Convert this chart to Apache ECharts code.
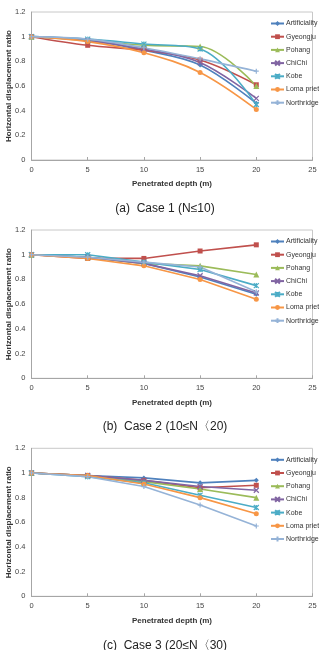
<!DOCTYPE html>
<html>
<head>
<meta charset="utf-8">
<script src="https://cdn.jsdelivr.net/npm/echarts@6/dist/echarts.min.js"></script>
<style>
  html, body { margin: 0; padding: 0; background: #fff; }
  #main { width: 319px; height: 650px; }
</style>
</head>
<body>
<div id="main"></div>
<script>
// depth (m) on x
var depths = [0, 5, 10, 15, 20];
var names = ['Artificiality', 'Gyeongju', 'Pohang', 'ChiChi', 'Kobe', 'Loma prieta', 'Northridge'];
var colors = ['#4F81BD', '#C0504D', '#9BBB59', '#8064A2', '#4BACC6', '#F79646', '#95B3D7'];
var captions = ['(a)  Case 1 (N\u226410)', '(b)  Case 2 (10\u2264N\u300820)', '(c)  Case 3 (20\u2264N\u300830)'];
var yTicks = [0, 0.2, 0.4, 0.6, 0.8, 1, 1.2];

// case 1 (N<=10)
var case1 = [
  [1, 0.97, 0.89, 0.77, 0.46],
  [1, 0.93, 0.89, 0.81, 0.61],
  [1, 0.97, 0.93, 0.92, 0.60],
  [1, 0.97, 0.90, 0.79, 0.50],
  [1, 0.98, 0.94, 0.90, 0.45],
  [1, 0.96, 0.87, 0.71, 0.41],
  [1, 0.98, 0.91, 0.82, 0.72]
];
// case 2 (10<=N<20)
var case2 = [
  [1, 0.98, 0.93, 0.82, 0.68],
  [1, 0.97, 0.97, 1.03, 1.08],
  [1, 0.98, 0.93, 0.91, 0.84],
  [1, 0.98, 0.93, 0.83, 0.69],
  [1, 1.00, 0.94, 0.88, 0.75],
  [1, 0.97, 0.91, 0.80, 0.64],
  [1, 0.98, 0.94, 0.90, 0.70]
];
// case 3 (20<=N<30)
var case3 = [
  [1, 0.98, 0.96, 0.92, 0.94],
  [1, 0.98, 0.94, 0.88, 0.90],
  [1, 0.98, 0.93, 0.87, 0.80],
  [1, 0.98, 0.94, 0.89, 0.86],
  [1, 0.97, 0.92, 0.82, 0.72],
  [1, 0.98, 0.91, 0.80, 0.67],
  [1, 0.97, 0.89, 0.74, 0.57]
];
var cases = [case1, case2, case3];
var smoothFlags = [true, false, false];

var symbols = [
  'diamond',
  'rect',
  'triangle',
  'path://M0,0L10,10M10,0L0,10',
  'path://M0,0L10,10M10,0L0,10M5,0L5,10',
  'circle',
  'path://M5,0L5,10M0,5L10,5'
];
var strokeOnly = [false, false, false, true, true, false, true];

var tops = [12, 230, 448.3];
var heights = [148, 148.3, 148];
var font = '"Liberation Sans", "Noto Sans", sans-serif';

var myChart = echarts.init(document.getElementById('main'));

var grids = [], xAxes = [], yAxes = [], series = [], legends = [], titles = [];
for (var g = 0; g < 3; g++) {
  grids.push({
    left: 31.5, top: tops[g], width: 281, height: heights[g],
    outerBoundsMode: 'none', containLabel: false,
    show: true, borderColor: '#C8C8C8', borderWidth: 1, backgroundColor: '#fff'
  });
  xAxes.push({
    type: 'value', gridIndex: g, min: 0, max: 25, interval: 5,
    name: 'Penetrated depth (m)', nameLocation: 'middle', nameGap: 20, nameMoveOverlap: false,
    nameTextStyle: { fontSize: 8, fontWeight: 'bold', color: '#333', fontFamily: font },
    axisLine: { show: true, lineStyle: { color: '#A6A6A6', width: 1 } },
    axisTick: { show: true, inside: true, length: 3, lineStyle: { color: '#A6A6A6' } },
    axisLabel: { fontSize: 7.5, color: '#444', margin: 6, fontFamily: font },
    splitLine: { show: false }
  });
  yAxes.push({
    type: 'value', gridIndex: g, min: 0, max: 1.2, interval: 0.2,
    name: 'Horizontal displacement ratio', nameLocation: 'middle', nameGap: 19, nameMoveOverlap: false,
    nameTextStyle: { fontSize: 8, fontWeight: 'bold', color: '#333', fontFamily: font },
    axisLine: { show: true, lineStyle: { color: '#A6A6A6', width: 1 } },
    axisTick: { show: false },
    axisLabel: { fontSize: 7.5, color: '#444', margin: 6, fontFamily: font,
      formatter: function (v) { return yTicks.indexOf(+v.toFixed(1)) >= 0 ? String(+v.toFixed(1)) : ''; } },
    splitLine: { show: false }
  });
  legends.push({
    orient: 'vertical', left: 265, top: tops[g] + 3,
    itemWidth: 13, itemHeight: 6, itemGap: 6.2,
    textStyle: { fontSize: 7, color: '#333', fontFamily: font, padding: [0, 0, 0, -3] },
    data: names, selectedMode: false
  });
  titles.push({
    text: captions[g], left: 160, textAlign: 'center', top: tops[g] + 186,
    textStyle: { fontSize: 12, fontWeight: 'normal', color: '#222', fontFamily: font }
  });
  for (var s = 0; s < names.length; s++) {
    var pts = depths.map(function (d, i) { return [d, cases[g][s][i]]; });
    series.push({
      name: names[s], type: 'line', xAxisIndex: g, yAxisIndex: g,
      data: pts, smooth: smoothFlags[g] ? 0.35 : false,
      symbol: symbols[s], symbolSize: s === 2 ? 6 : 5,
      lineStyle: { width: 1.6, color: colors[s] },
      itemStyle: strokeOnly[s]
        ? { color: colors[s], borderColor: colors[s], borderWidth: 1.2 }
        : { color: colors[s] },
      animation: false
    });
  }
}

var option = {
  backgroundColor: '#fff',
  animation: false,
  title: titles,
  grid: grids,
  xAxis: xAxes,
  yAxis: yAxes,
  legend: legends,
  series: series
};
myChart.setOption(option, true);
</script>
</body>
</html>
